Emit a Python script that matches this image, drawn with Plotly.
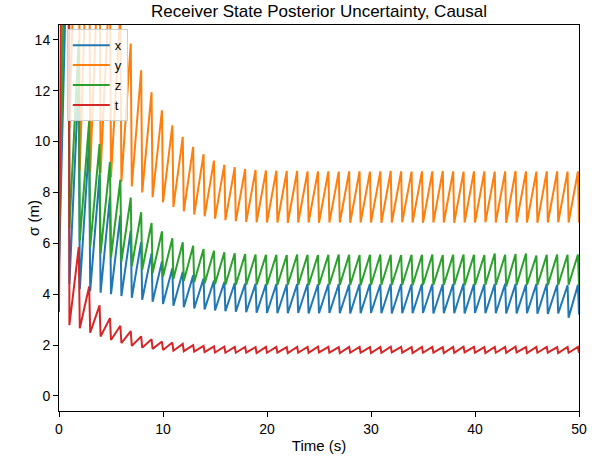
import plotly.graph_objects as go

# ---- data ----
# measurement (drop) times are the integers 1..50; peaks occur just before each drop
meas_times = list(range(1, 51))
drop_dt = 0.1

init_x, init_y, init_z, init_t = 5.0, 7.0, 5.5, 3.3

peak_x = [20.0, 12.5, 10.0, 8.7, 7.85, 7.1, 6.5, 6.05, 5.6, 5.29,
          5.02, 4.88, 4.74, 4.62, 4.54, 4.48, 4.44, 4.42, 4.41, 4.40,
          4.40, 4.39, 4.40, 4.41, 4.39, 4.40, 4.40, 4.38, 4.40, 4.41,
          4.39, 4.40, 4.40, 4.39, 4.41, 4.40, 4.39, 4.40, 4.42, 4.40,
          4.39, 4.40, 4.41, 4.40, 4.38, 4.40, 4.41, 4.37, 4.35, 4.37]
trough_x = [4.40, 4.20, 4.12, 4.06, 4.00, 3.93, 3.86, 3.78, 3.70, 3.62,
            3.55, 3.49, 3.44, 3.40, 3.36, 3.33, 3.31, 3.29, 3.27, 3.26,
            3.25, 3.25, 3.26, 3.24, 3.25, 3.26, 3.25, 3.24, 3.25, 3.26,
            3.25, 3.24, 3.25, 3.25, 3.26, 3.24, 3.25, 3.25, 3.24, 3.26,
            3.25, 3.25, 3.24, 3.24, 3.25, 3.23, 3.22, 3.24, 3.08, 3.20]

peak_y = [27.0, 23.3, 20.6, 18.4, 16.6, 15.1, 13.85, 12.8, 11.94, 11.23,
          10.64, 10.18, 9.79, 9.50, 9.25, 9.09, 8.99, 8.92, 8.88, 8.86,
          8.85, 8.84, 8.84, 8.83, 8.83, 8.83, 8.82, 8.83, 8.83, 8.82,
          8.83, 8.84, 8.83, 8.82, 8.83, 8.83, 8.84, 8.83, 8.82, 8.83,
          8.83, 8.82, 8.83, 8.84, 8.83, 8.82, 8.83, 8.83, 8.82, 8.83]
trough_y = [10.5, 8.85, 8.80, 8.77, 8.60, 8.42, 8.24, 8.00, 7.81, 7.61,
            7.43, 7.26, 7.13, 7.06, 6.97, 6.91, 6.87, 6.84, 6.83, 6.82,
            6.82, 6.81, 6.82, 6.82, 6.81, 6.82, 6.82, 6.81, 6.82, 6.82,
            6.81, 6.82, 6.83, 6.82, 6.81, 6.82, 6.82, 6.81, 6.82, 6.82,
            6.83, 6.82, 6.81, 6.82, 6.82, 6.81, 6.82, 6.83, 6.82, 6.82]

peak_z = [25.0, 14.0, 10.8, 9.9, 9.2, 8.5, 7.8, 7.22, 6.80, 6.47,
          6.20, 6.04, 5.90, 5.78, 5.71, 5.65, 5.61, 5.58, 5.56, 5.55,
          5.55, 5.54, 5.56, 5.55, 5.54, 5.55, 5.56, 5.55, 5.54, 5.55,
          5.56, 5.55, 5.54, 5.55, 5.55, 5.56, 5.54, 5.55, 5.56, 5.55,
          5.54, 5.60, 5.55, 5.58, 5.60, 5.52, 5.55, 5.56, 5.55, 5.56]
trough_z = [6.60, 6.10, 5.85, 5.60, 5.45, 5.28, 5.10, 4.96, 4.83, 4.70,
            4.60, 4.52, 4.47, 4.42, 4.39, 4.37, 4.36, 4.36, 4.37, 4.36,
            4.36, 4.37, 4.36, 4.35, 4.36, 4.37, 4.36, 4.36, 4.35, 4.36,
            4.37, 4.36, 4.36, 4.35, 4.36, 4.37, 4.36, 4.36, 4.35, 4.36,
            4.37, 4.36, 4.30, 4.36, 4.37, 4.36, 4.35, 4.36, 4.37, 4.36]

peak_t = [60.0, 5.85, 4.30, 3.56, 3.06, 2.76, 2.55, 2.34, 2.23, 2.14,
          2.10, 2.05, 2.00, 1.97, 1.95, 1.94, 1.93, 1.93, 1.92, 1.93,
          1.93, 1.92, 1.93, 1.93, 1.94, 1.93, 1.92, 1.93, 1.93, 1.92,
          1.93, 1.94, 1.93, 1.92, 1.93, 1.93, 1.92, 1.93, 1.94, 1.93,
          1.92, 1.93, 1.93, 1.94, 1.92, 1.93, 1.93, 1.92, 1.93, 1.93]
trough_t = [2.78, 2.66, 2.49, 2.34, 2.20, 2.08, 1.97, 1.90, 1.85, 1.81,
            1.78, 1.76, 1.74, 1.72, 1.71, 1.70, 1.70, 1.70, 1.69, 1.70,
            1.70, 1.69, 1.70, 1.70, 1.71, 1.70, 1.69, 1.70, 1.70, 1.69,
            1.70, 1.71, 1.70, 1.69, 1.70, 1.70, 1.69, 1.70, 1.71, 1.70,
            1.69, 1.70, 1.70, 1.71, 1.69, 1.70, 1.70, 1.69, 1.70, 1.70]

series_names = ["x", "y", "z", "t"]
series_colors = ["#1f77b4", "#ff7f0e", "#2ca02c", "#d62728"]
x_ticks = [0, 10, 20, 30, 40, 50]
y_ticks = [0, 2, 4, 6, 8, 10, 12, 14]


def build(init, peaks, troughs):
    ts, vs = [0.0], [init]
    for m, p, tr in zip(meas_times, peaks, troughs):
        ts.append(m - drop_dt)
        vs.append(p)
        ts.append(m)
        vs.append(tr)
    return ts, vs


series = [build(init_x, peak_x, trough_x), build(init_y, peak_y, trough_y),
          build(init_z, peak_z, trough_z), build(init_t, peak_t, trough_t)]

fig = go.Figure()
for name, color, (ts, vs) in zip(series_names, series_colors, series):
    fig.add_trace(go.Scatter(x=ts, y=vs, mode="lines", name=name,
                             line=dict(color=color, width=2)))

font_family = "Liberation Sans, Arial, Helvetica, sans-serif"
fig.update_layout(
    width=597, height=457,
    margin=dict(l=59, r=18, t=25, b=46, autoexpand=False),
    paper_bgcolor="white", plot_bgcolor="white",
    font=dict(family=font_family, size=14, color="black"),
    title=dict(text="Receiver State Posterior Uncertainty, Causal",
               x=0.5, xref="paper", xanchor="center",
               y=1 - 11 / 457, yref="container", yanchor="middle",
               font=dict(size=17, color="black")),
    showlegend=True,
    legend=dict(x=0.015, y=0.989, xanchor="left", yanchor="top",
                bgcolor="rgba(255,255,255,0.8)", bordercolor="#cccccc",
                borderwidth=1, font=dict(size=13), tracegroupgap=0,
                itemwidth=37),
    annotations=[dict(text="σ (m)", textangle=-90, x=-0.05, y=0.5,
                      xref="paper", yref="paper", xanchor="center",
                      yanchor="middle", showarrow=False,
                      font=dict(size=15, color="black"))],
)
fig.update_xaxes(range=[0, 50], tickvals=x_ticks, ticks="outside", ticklen=5,
                 tickcolor="black", showline=True, linecolor="black",
                 linewidth=1, mirror=True, showgrid=False, zeroline=False,
                 automargin=False, tickfont=dict(size=14),
                 title=dict(text="Time (s)", standoff=4,
                            font=dict(size=15)))
fig.update_yaxes(range=[-0.59, 14.58], tickvals=y_ticks, ticks="outside",
                 ticklen=5, tickcolor="black", showline=True,
                 linecolor="black", linewidth=1, mirror=True,
                 showgrid=False, zeroline=False, automargin=False,
                 tickfont=dict(size=14))

fig.write_html("out.html", config={"displayModeBar": False},
               post_script="document.body.style.margin='0';"
                           "document.body.style.padding='0';")
